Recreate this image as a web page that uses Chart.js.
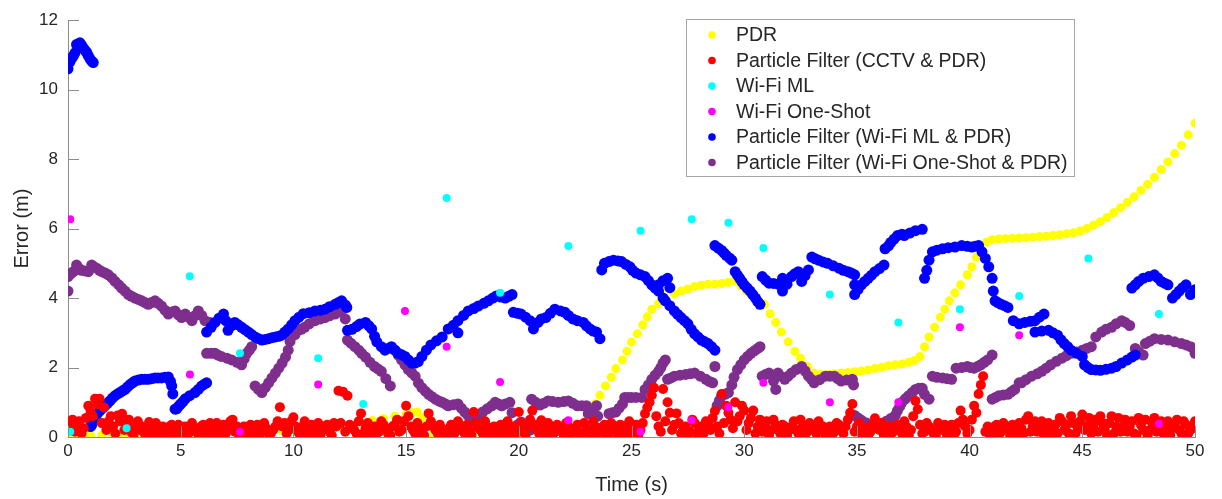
<!DOCTYPE html>
<html>
<head>
<meta charset="utf-8">
<script src="https://cdn.jsdelivr.net/npm/chart.js@4.4.0/dist/chart.umd.min.js"></script>
<style>
  html, body { margin: 0; padding: 0; background: #fff; }
  #wrap { width: 1222px; height: 499px; }
</style>
</head>
<body>
<div id="wrap"><canvas id="c" width="1222" height="499"></canvas></div>
<script>
// 軸刻度
const timeTicks = [0, 5, 10, 15, 20, 25, 30, 35, 40, 45, 50];
const errorTicks = [0, 2, 4, 6, 8, 10, 12];

// 各系列 [time (s), error (m)]
const pdrPoints = [
  [0,0.05],[0.5,0.05],[1,0.05],[1.5,0.05],[2,0.05],[2.5,0.08],[3,0.08],[3.5,0.1],[4,0.1],[4.5,0.1],
  [5,0.12],[5.5,0.12],[6,0.12],[6.5,0.12],[7,0.12],[7.5,0.15],[8,0.15],[8.5,0.15],[9,0.15],[9.5,0.18],
  [10,0.2],[10.5,0.2],[11,0.22],[11.5,0.25],[12,0.3],[12.5,0.35],[13,0.43],[13.5,0.48],[14,0.53],[14.5,0.6],
  [15,0.66],[15.3,0.7],[15.5,0.72],[15.7,0.55],[15.9,0.35],[16.2,0.05],[16.6,0.1],[17,0.12],[17.5,0.15],[18,0.15],
  [18.5,0.15],[19,0.18],[19.5,0.2],[20,0.2],[20.5,0.22],[21,0.25],[21.5,0.28],[22,0.3],[22.5,0.35],[22.9,0.42],
  [23.15,0.7],[23.4,0.96],[23.6,1.2],[23.85,1.47],[24.1,1.72],[24.3,1.97],[24.6,2.22],[24.8,2.47],[25.0,2.73],[25.26,2.97],
  [25.5,3.23],[25.7,3.46],[25.9,3.68],[26.2,3.84],[26.5,3.98],[26.9,4.12],[27.2,4.2],[27.5,4.26],[27.8,4.33],[28.1,4.37],
  [28.4,4.4],[28.7,4.4],[29.0,4.42],[29.3,4.45],[29.6,4.5],[29.85,4.35],[30.1,4.2],[30.35,4.07],[30.6,3.95],[30.9,3.82],
  [31.15,3.55],[31.4,3.3],[31.65,3.02],[31.95,2.74],[32.25,2.46],[32.5,2.27],[32.8,2.03],[33.1,1.84],[33.4,1.8],[33.7,1.8],
  [34.0,1.82],[34.3,1.84],[34.6,1.86],[34.9,1.88],[35.2,1.9],[35.5,1.93],[35.8,1.97],[36.1,2.0],[36.4,2.05],[36.7,2.08],
  [37.0,2.1],[37.3,2.15],[37.55,2.2],[37.8,2.32],[38.0,2.6],[38.2,2.88],[38.45,3.16],[38.7,3.45],[38.9,3.68],[39.1,3.92],
  [39.35,4.15],[39.6,4.38],[39.9,4.67],[40.1,4.9],[40.3,5.18],[40.5,5.42],[40.75,5.61],[41.0,5.68],[41.3,5.7],[41.6,5.71],
  [41.9,5.72],[42.2,5.73],[42.5,5.74],[42.8,5.75],[43.1,5.77],[43.4,5.78],[43.7,5.8],[44.0,5.82],[44.3,5.85],[44.6,5.88],
  [44.9,5.93],[45.2,6.0],[45.5,6.1],[45.8,6.2],[46.1,6.32],[46.4,6.46],[46.7,6.6],[47.0,6.76],[47.3,6.92],[47.6,7.1],
  [47.9,7.28],[48.2,7.48],[48.5,7.7],[48.8,7.92],[49.1,8.16],[49.4,8.4],[49.7,8.7],[50.0,9.03]
];

const cctvPfEven = [
  [0.0,0.2],[0.2,0.5],[0.4,0.3],[0.6,0.1],[0.8,0.55],[1.0,0.75],[1.2,1.1],[1.4,1.1],[1.6,0.85],[1.8,0.45],
  [2.0,0.3],[2.2,0.62],[2.4,0.67],[2.6,0.35],[2.8,0.15],[3.0,0.3],[3.2,0.2],[3.4,0.1],[3.6,0.43],[3.8,0.25],
  [4.0,0.1],[4.2,0.3],[4.4,0.15],[4.6,0.35],[4.8,0.2],[5.0,0.1],[5.2,0.3],[5.4,0.15],[5.6,0.25],[5.8,0.05],
  [6.0,0.35],[6.2,0.2],[6.4,0.1],[6.6,0.4],[6.8,0.2],[7.0,0.1],[7.2,0.45],[7.4,0.15],[7.6,0.05],[7.8,0.3],
  [8.0,0.2],[8.2,0.1],[8.4,0.35],[8.6,0.15],[8.8,0.25],[9.0,0.1],[9.2,0.3],[9.4,0.86],[9.6,0.4],[9.8,0.2],
  [10.0,0.57],[10.2,0.15],[10.4,0.3],[10.6,0.1],[10.8,0.35],[11.0,0.2],[11.2,0.05],[11.4,0.3],[11.6,0.15],[11.8,0.4],
  [12.0,1.33],[12.2,1.3],[12.4,1.19],[12.6,0.3],[12.8,0.1],[13.0,0.68],[13.2,0.25],[13.4,0.05],[13.6,0.3],[13.8,0.15],
  [14.0,0.35],[14.2,0.1],[14.4,0.3],[14.6,0.5],[14.8,0.2],[15.0,0.9],[15.2,0.3],[15.4,0.1],[15.6,0.25],[15.8,0.05],
  [16.0,0.68],[16.2,0.3],[16.4,0.1],[16.6,0.2],[16.8,0.05],[17.0,0.35],[17.2,0.15],[17.4,0.3],[17.6,0.1],[17.8,0.2],
  [18.0,0.72],[18.2,0.25],[18.4,0.1],[18.6,0.3],[18.8,0.15],[19.0,0.05],[19.2,0.35],[19.4,0.2],[19.6,0.1],[19.8,0.3],
  [20.0,0.72],[20.2,0.15],[20.4,0.3],[20.6,0.76],[20.8,0.2],[21.0,0.48],[21.2,0.1],[21.4,0.3],[21.6,0.15],[21.8,0.25],
  [22.0,0.05],[22.2,0.3],[22.4,0.15],[22.6,0.35],[22.8,0.1],[23.0,0.25],[23.2,0.05],[23.4,0.3],[23.6,0.15],[23.8,0.35],
  [24.0,0.1],[24.2,0.25],[24.4,0.05],[24.6,0.3],[24.8,0.2],[25.0,0.1],[25.2,0.35],[25.4,0.2],[25.6,0.67],[25.8,1.0],
  [26.0,1.42],[26.2,0.3],[26.4,1.38],[26.6,1.0],[26.8,0.2],[27.0,0.68],[27.2,0.1],[27.4,0.3],[27.6,0.15],[27.8,0.4],
  [28.0,0.2],[28.2,0.1],[28.4,0.35],[28.6,0.55],[28.8,0.3],[29.0,1.24],[29.2,0.9],[29.4,0.5],[29.6,1.0],[29.8,0.6],
  [30.0,0.76],[30.2,0.4],[30.4,0.76],[30.6,0.3],[30.8,0.15],[31.0,0.45],[31.2,0.2],[31.4,0.35],[31.6,0.1],[31.8,0.3],
  [32.0,0.2],[32.2,0.45],[32.4,0.1],[32.6,0.3],[32.8,0.15],[33.0,0.35],[33.2,0.1],[33.4,0.25],[33.6,0.05],[33.8,0.3],
  [34.0,0.15],[34.2,0.35],[34.4,0.1],[34.6,0.5],[34.8,0.95],[35.0,0.3],[35.2,0.1],[35.4,0.25],[35.6,0.15],[35.8,0.54],
  [36.0,0.2],[36.2,0.05],[36.4,0.3],[36.6,0.15],[36.8,0.35],[37.0,0.1],[37.2,0.3],[37.4,0.2],[37.6,1.04],[37.8,0.35],
  [38.0,0.15],[38.2,0.3],[38.4,0.1],[38.6,0.4],[38.8,0.2],[39.0,0.05],[39.2,0.35],[39.4,0.15],[39.6,0.76],[39.8,0.3],
  [40.0,0.2],[40.2,0.9],[40.4,1.24],[40.6,1.75],[40.8,0.3],[41.0,0.1],[41.2,0.35],[41.4,0.15],[41.6,0.3],[41.8,0.05],
  [42.0,0.25],[42.2,0.4],[42.4,0.1],[42.6,0.6],[42.8,0.3],[43.0,0.15],[43.2,0.45],[43.4,0.2],[43.6,0.05],[43.8,0.35],
  [44.0,0.55],[44.2,0.2],[44.4,0.1],[44.6,0.4],[44.8,0.25],[45.0,0.65],[45.2,0.3],[45.4,0.1],[45.6,0.5],[45.8,0.6],
  [46.0,0.2],[46.2,0.4],[46.4,0.1],[46.6,0.55],[46.8,0.3],[47.0,0.15],[47.2,0.45],[47.4,0.05],[47.6,0.35],[47.8,0.5],
  [48.0,0.2],[48.2,0.55],[48.4,0.3],[48.6,0.1],[48.8,0.45],[49.0,0.25],[49.2,0.5],[49.4,0.1],[49.6,0.35],[49.8,0.2],
  [50.0,0.45]
];

const cctvPfOdd = [
  [0.1,0.35],[0.3,0.15],[0.5,0.45],[0.7,0.25],[0.9,0.9],[1.1,0.6],[1.3,0.95],[1.5,0.4],[1.7,0.2],[1.9,0.6],
  [2.1,0.1],[2.3,0.45],[2.5,0.2],[2.7,0.5],[2.9,0.05],[3.1,0.45],[3.3,0.3],[3.5,0.2],[3.7,0.1],[3.9,0.4],
  [4.1,0.2],[4.3,0.05],[4.5,0.3],[4.7,0.1],[4.9,0.35],[5.1,0.2],[5.3,0.05],[5.5,0.4],[5.7,0.15],[5.9,0.3],
  [6.1,0.1],[6.3,0.4],[6.5,0.25],[6.7,0.05],[6.9,0.35],[7.1,0.25],[7.3,0.5],[7.5,0.3],[7.7,0.2],[7.9,0.1],
  [8.1,0.35],[8.3,0.25],[8.5,0.05],[8.7,0.4],[8.9,0.1],[9.1,0.2],[9.3,0.45],[9.5,0.3],[9.7,0.1],[9.9,0.45],
  [10.1,0.3],[10.3,0.05],[10.5,0.45],[10.7,0.25],[10.9,0.1],[11.1,0.4],[11.3,0.2],[11.5,0.35],[11.7,0.05],[11.9,0.3],
  [12.1,0.4],[12.3,0.15],[12.5,0.35],[12.7,0.2],[12.9,0.45],[13.1,0.1],[13.3,0.4],[13.5,0.2],[13.7,0.1],[13.9,0.45],
  [14.1,0.25],[14.3,0.05],[14.5,0.35],[14.7,0.15],[14.9,0.45],[15.1,0.6],[15.3,0.2],[15.5,0.4],[15.7,0.1],[15.9,0.3],
  [16.1,0.45],[16.3,0.2],[16.5,0.35],[16.7,0.1],[16.9,0.25],[17.1,0.05],[17.3,0.45],[17.5,0.2],[17.7,0.35],[17.9,0.05],
  [18.1,0.4],[18.3,0.2],[18.5,0.45],[18.7,0.05],[18.9,0.3],[19.1,0.2],[19.3,0.1],[19.5,0.45],[19.7,0.25],[19.9,0.1],
  [20.1,0.4],[20.3,0.05],[20.5,0.5],[20.7,0.35],[20.9,0.1],[21.1,0.3],[21.3,0.4],[21.5,0.05],[21.7,0.35],[21.9,0.15],
  [22.1,0.4],[22.3,0.1],[22.5,0.25],[22.7,0.05],[22.9,0.4],[23.1,0.2],[23.3,0.45],[23.5,0.1],[23.7,0.25],[23.9,0.05],
  [24.1,0.4],[24.3,0.2],[24.5,0.35],[24.7,0.1],[24.9,0.45],[25.1,0.25],[25.3,0.05],[25.5,0.4],[25.7,0.85],[25.9,1.2],
  [26.1,0.6],[26.3,0.15],[26.5,0.45],[26.7,0.7],[26.9,0.35],[27.1,0.4],[27.3,0.2],[27.5,0.05],[27.7,0.5],[27.9,0.1],
  [28.1,0.3],[28.3,0.45],[28.5,0.2],[28.7,0.75],[28.9,0.1],[29.1,0.4],[29.3,0.7],[29.5,0.25],[29.7,0.45],[29.9,0.9],
  [30.1,0.2],[30.3,0.55],[30.5,0.1],[30.7,0.5],[30.9,0.3],[31.1,0.05],[31.3,0.5],[31.5,0.2],[31.7,0.35],[31.9,0.05],
  [32.1,0.3],[32.3,0.2],[32.5,0.5],[32.7,0.05],[32.9,0.4],[33.1,0.2],[33.3,0.45],[33.5,0.3],[33.7,0.15],[33.9,0.05],
  [34.1,0.4],[34.3,0.2],[34.5,0.3],[34.7,0.7],[34.9,0.15],[35.1,0.4],[35.3,0.2],[35.5,0.05],[35.7,0.35],[35.9,0.25],
  [36.1,0.4],[36.3,0.1],[36.5,0.05],[36.7,0.3],[36.9,0.2],[37.1,0.45],[37.3,0.05],[37.5,0.6],[37.7,0.8],[37.9,0.1],
  [38.1,0.4],[38.3,0.2],[38.5,0.05],[38.7,0.25],[38.9,0.35],[39.1,0.15],[39.3,0.05],[39.5,0.4],[39.7,0.5],[39.9,0.1],
  [40.1,0.5],[40.3,0.7],[40.5,1.5],[40.7,0.15],[40.9,0.05],[41.1,0.3],[41.3,0.05],[41.5,0.4],[41.7,0.2],[41.9,0.35],
  [42.1,0.05],[42.3,0.25],[42.5,0.5],[42.7,0.15],[42.9,0.45],[43.1,0.3],[43.3,0.05],[43.5,0.4],[43.7,0.25],[43.9,0.1],
  [44.1,0.45],[44.3,0.35],[44.5,0.6],[44.7,0.1],[44.9,0.45],[45.1,0.2],[45.3,0.55],[45.5,0.35],[45.7,0.15],[45.9,0.4],
  [46.1,0.05],[46.3,0.6],[46.5,0.3],[46.7,0.15],[46.9,0.5],[47.1,0.3],[47.3,0.1],[47.5,0.55],[47.7,0.2],[47.9,0.05],
  [48.1,0.4],[48.3,0.15],[48.5,0.45],[48.7,0.3],[48.9,0.05],[49.1,0.35],[49.3,0.2],[49.5,0.45],[49.7,0.1],[49.9,0.3]
];

const wifiMlPoints = [
  [0.1,0.15],[2.6,0.25],[5.4,4.63],[7.63,2.41],[11.1,2.27],[13.1,0.95],[16.8,6.88],[19.17,4.15],[22.2,5.5],
  [25.4,5.94],[27.67,6.27],[29.3,6.17],[30.85,5.44],[33.8,4.1],[36.84,3.3],[39.57,3.68],[42.2,4.06],[45.27,5.14],[48.4,3.54]
];

const wifiOneShotPoints = [
  [0.1,6.27],[5.41,1.8],[7.63,0.15],[11.1,1.51],[14.95,3.63],[16.8,2.6],[19.17,1.58],[22.2,0.48],[25.4,0.15],
  [27.67,0.48],[29.3,0.86],[30.85,1.56],[33.8,1.0],[36.84,1.0],[39.57,3.16],[42.2,2.93],[48.4,0.38]
];

const mlPfPoints = [
  [0.0,10.6],[0.08,10.79],[0.16,10.9],[0.24,10.97],[0.31,11.06],[0.38,11.3],[0.46,11.32],[0.53,11.35],[0.6,11.28],[0.68,11.2],
  [0.76,11.13],[0.83,11.07],[0.9,10.98],[0.98,10.88],[1.05,10.82],[1.12,10.78],
  [1.0,0.3],[1.05,0.34],[1.12,0.45],[1.2,0.57],[1.3,0.67],[1.42,0.76],[1.53,0.83],[1.64,0.9],[1.75,0.97],[1.86,1.04],
  [1.97,1.12],[2.09,1.19],[2.2,1.24],[2.3,1.28],[2.42,1.33],[2.53,1.37],[2.64,1.44],[2.75,1.51],[2.86,1.56],[2.97,1.61],
  [3.12,1.64],[3.27,1.66],[3.42,1.66],[3.56,1.66],[3.71,1.68],[3.86,1.7],[4.0,1.7],[4.15,1.7],[4.3,1.72],[4.45,1.73],
  [4.55,1.6],[4.6,1.47],[4.65,1.24],
  [4.75,0.8],[4.82,0.81],[4.9,0.88],[5.0,0.95],[5.1,1.02],[5.2,1.1],[5.4,1.19],[5.63,1.28],[5.78,1.37],[5.93,1.47],
  [6.05,1.52],[6.15,1.56],
  [6.15,3.02],[6.35,3.16],[6.52,3.3],[6.7,3.42],[6.9,3.54],[7.0,3.35],[7.1,3.07],[7.25,3.2],[7.4,3.3],[7.55,3.23],
  [7.7,3.16],[7.85,3.09],[8.0,3.02],[8.15,2.95],[8.3,2.88],[8.45,2.83],[8.6,2.79],[8.75,2.81],[8.9,2.83],[9.05,2.86],
  [9.2,2.88],[9.35,2.9],[9.48,2.93],[9.62,3.02],[9.77,3.11],[9.92,3.23],[10.07,3.35],[10.25,3.45],[10.44,3.55],[10.7,3.58],
  [10.96,3.63],[11.2,3.65],[11.4,3.68],[11.6,3.75],[11.85,3.82],[12.0,3.87],[12.14,3.92],[12.3,3.8],[12.37,3.73],
  [12.4,3.07],[12.6,3.1],[12.8,3.18],[12.95,3.25],[13.2,3.3],[13.35,3.2],[13.47,3.11],[13.6,2.9],[13.7,2.74],[13.9,2.6],
  [14.06,2.5],[14.2,2.55],[14.35,2.6],[14.5,2.5],[14.65,2.41],[14.8,2.37],[14.95,2.32],[15.1,2.22],[15.25,2.13],[15.4,2.13],
  [15.54,2.17],[15.7,2.32],[15.9,2.5],[16.1,2.65],[16.35,2.77],[16.6,2.88],[16.87,3.11],[17.1,3.22],[17.3,3.35],[17.3,3.0],
  [17.55,3.5],[17.76,3.63],[18.0,3.7],[18.2,3.77],[18.45,3.85],[18.65,3.92],[18.85,4.0],[19.0,4.06],[19.2,4.03],[19.4,4.0],
  [19.55,4.05],[19.7,4.1],
  [19.76,3.59],[19.95,3.56],[20.1,3.54],[20.3,3.45],[20.5,3.35],[20.65,3.11],[20.85,3.3],[21.0,3.4],[21.2,3.44],[21.4,3.56],
  [21.6,3.68],[21.85,3.63],[22.05,3.59],[22.2,3.5],[22.4,3.4],[22.6,3.35],[22.86,3.3],[23.0,3.2],[23.16,3.11],[23.3,3.05],
  [23.45,3.02],[23.6,2.83],
  [23.68,4.81],[23.8,5.0],[24.0,5.05],[24.2,5.09],[24.4,5.07],[24.56,5.05],[24.75,4.97],[24.93,4.9],[25.05,4.8],[25.2,4.72],
  [25.4,4.67],[25.6,4.62],[25.75,4.5],[25.9,4.38],[26.05,4.29],[26.2,4.2],[26.4,4.0],
  [26.2,4.38],[26.4,4.5],[26.6,4.57],[26.7,4.3],[26.5,3.92],[26.7,3.78],[26.9,3.63],[27.05,3.53],[27.2,3.44],[27.35,3.35],
  [27.5,3.26],[27.65,3.1],[27.8,2.97],[27.95,2.88],[28.1,2.79],[28.25,2.74],[28.4,2.69],[28.55,2.6],[28.7,2.5],
  [28.7,5.51],[28.85,5.44],[29.0,5.37],[29.1,5.3],[29.2,5.23],[29.35,5.15],[29.45,5.09],[29.6,4.76],[29.7,4.66],[29.8,4.57],
  [29.9,4.47],[30.0,4.38],[30.13,4.29],[30.26,4.2],[30.38,4.1],[30.5,4.0],[30.6,3.9],[30.7,3.82],
  [30.8,4.62],[30.95,4.52],[31.1,4.43],[31.3,4.42],[31.5,4.4],[31.7,4.57],[31.7,4.2],[31.9,4.4],[32.1,4.62],[32.25,4.7],
  [32.4,4.76],[32.55,4.48],[32.7,4.65],[32.85,4.81],[33.0,5.18],[33.15,5.13],[33.3,5.09],[33.5,5.04],[33.7,5.0],[33.95,4.93],
  [34.2,4.86],[34.4,4.8],[34.6,4.76],[34.75,4.72],[34.9,4.67],[34.9,4.38],[34.9,4.1],[35.05,4.25],[35.2,4.38],[35.35,4.48],
  [35.5,4.57],[35.65,4.66],[35.8,4.76],[36.0,4.85],[36.2,4.95],[36.25,5.42],[36.4,5.5],[36.5,5.6],[36.65,5.7],[36.8,5.8],
  [37.0,5.84],[37.1,5.8],[37.35,5.87],[37.6,5.94],[37.9,5.98],
  [38.0,4.57],[38.1,4.8],[38.2,5.09],[38.35,5.33],[38.55,5.38],[38.8,5.42],[39.05,5.45],[39.35,5.47],[39.65,5.51],[39.9,5.49],
  [40.1,5.47],[40.25,5.49],[40.4,5.51],[40.55,5.33],[40.7,5.14],[40.85,4.9],[41.0,4.57],[41.05,4.2],[41.13,3.92],[41.25,3.87],
  [41.4,3.82],[41.55,3.78],[41.7,3.73],[41.94,3.35],[42.2,3.26],[42.45,3.3],[42.7,3.33],[42.9,3.35],[43.1,3.45],[43.3,3.54],
  [42.9,3.02],[43.2,3.05],[43.5,3.07],[43.7,3.0],[43.9,2.93],[44.05,2.8],[44.2,2.69],[44.35,2.6],[44.5,2.5],[44.75,2.41],
  [45.0,2.32],[45.1,2.08],[45.25,2.0],[45.4,1.94],[45.6,1.93],[45.8,1.92],[46.05,1.95],[46.3,1.98],[46.5,2.03],[46.75,2.13],
  [47.0,2.22],[47.2,2.3],[47.35,2.36],
  [47.2,4.29],[47.35,4.38],[47.5,4.48],[47.7,4.57],[47.95,4.62],[48.2,4.67],[48.35,4.58],[48.5,4.48],[48.65,4.43],[48.8,4.38],
  [49.0,4.0],[49.15,4.1],[49.3,4.2],[49.45,4.3],[49.6,4.38],[49.8,4.1],[50.0,4.24]
];

const oneShotPfPoints = [
  [0.0,4.2],[0.0,4.62],[0.12,4.7],[0.24,4.76],[0.38,4.95],[0.5,4.85],[0.6,4.8],[0.75,4.78],[0.9,4.76],[1.05,4.95],
  [1.15,4.9],[1.27,4.86],[1.4,4.8],[1.5,4.76],[1.65,4.72],[1.79,4.67],[1.95,4.58],[2.09,4.48],[2.25,4.38],[2.38,4.29],
  [2.53,4.2],[2.68,4.1],[2.82,4.05],[2.97,4.0],[3.12,3.96],[3.27,3.92],[3.42,3.87],[3.56,3.82],[3.7,3.87],[3.86,3.92],
  [4.0,3.85],[4.15,3.77],[4.3,3.65],[4.45,3.54],[4.6,3.6],[4.75,3.63],[4.9,3.52],[5.04,3.44],[5.2,3.54],[5.35,3.45],
  [5.5,3.35],[5.65,3.5],[5.78,3.63],[5.93,3.5],[6.08,3.35],[6.3,3.3],
  [6.15,2.41],[6.35,2.41],[6.52,2.41],[6.65,2.36],[6.8,2.32],[7.05,2.27],[7.26,2.22],[7.5,2.15],[7.7,2.08],[7.82,2.25],
  [7.93,2.41],[8.05,2.5],[8.15,2.6],
  [8.3,1.47],[8.45,1.37],[8.6,1.28],[8.75,1.42],[8.9,1.56],[9.05,1.7],[9.2,1.84],[9.35,1.98],[9.5,2.13],[9.65,2.3],
  [9.77,2.5],[9.85,2.75],[9.9,2.88],[10.07,2.95],[10.2,3.07],[10.35,3.1],[10.5,3.16],[10.7,3.26],[10.96,3.35],[11.2,3.4],
  [11.4,3.44],[11.6,3.49],[11.85,3.54],[12.0,3.6],[12.2,3.68],[12.3,3.4],
  [12.4,2.79],[12.55,2.7],[12.73,2.6],[12.9,2.5],[13.03,2.41],[13.2,2.3],[13.4,2.15],[13.6,2.03],[13.75,1.96],[13.9,1.89],
  [14.1,1.68],[14.3,1.47],
  [14.5,2.5],[14.65,2.36],[14.8,2.22],[14.95,2.08],[15.1,1.94],[15.25,1.85],[15.4,1.75],[15.55,1.55],[15.7,1.42],[15.85,1.32],
  [16.0,1.23],[16.15,1.16],[16.3,1.09],[16.45,1.04],[16.6,1.0],[16.75,0.95],[16.87,0.9],[17.1,0.93],[17.3,0.95],[17.45,0.83],
  [17.6,0.72],[17.75,0.62],[17.9,0.53],[18.05,0.57],[18.2,0.62],[18.4,0.72],[18.6,0.81],[18.8,0.9],[18.95,1.0],[19.1,0.95],
  [19.24,0.9],[19.4,0.95],[19.6,1.0],[19.7,0.7],
  [19.83,0.25],[19.95,0.35],[20.1,0.43],[20.3,0.3],[20.5,0.2],
  [20.57,1.09],[20.75,1.0],[20.94,0.92],[21.1,0.97],[21.3,1.04],[21.5,1.02],[21.75,1.0],[22.0,1.02],[22.2,1.04],[22.4,0.97],
  [22.6,0.9],[22.8,0.9],[23.0,0.9],[23.08,0.67],[23.25,0.78],[23.45,0.9],[23.5,0.6],
  [23.5,0.25],[23.65,0.22],[23.8,0.2],
  [24.0,0.67],[24.15,0.7],[24.3,0.72],[24.45,0.83],[24.6,0.95],[24.7,1.14],[24.85,1.14],[25.0,1.14],[25.2,1.14],[25.45,1.14],
  [25.6,1.37],[25.75,1.5],[25.9,1.66],[26.05,1.78],[26.2,1.89],[26.3,2.0],[26.4,2.13],[26.5,2.22],
  [26.6,1.66],[26.75,1.7],[26.9,1.75],[27.15,1.78],[27.4,1.8],[27.6,1.82],[27.8,1.84],[28.05,1.75],[28.3,1.66],[28.45,1.6],
  [28.6,1.56],[28.7,2.03],
  [28.8,0.9],[28.9,1.05],[29.0,1.19],[29.15,1.23],[29.3,1.28],[29.45,1.5],[29.55,1.72],[29.7,1.94],[29.85,2.08],[30.0,2.22],
  [30.15,2.32],[30.3,2.41],[30.45,2.48],[30.6,2.55],[30.7,2.6],
  [30.8,1.75],[30.95,1.8],[31.1,1.84],[31.3,1.61],[31.4,1.37],[31.5,1.84],[31.6,1.75],[31.8,1.66],[31.95,1.75],[32.1,1.84],
  [32.3,1.94],[32.55,2.03],[32.7,1.9],[32.85,1.75],[33.0,1.65],[33.1,1.56],[33.35,1.65],[33.6,1.75],[33.8,1.75],[34.0,1.75],
  [34.15,1.68],[34.3,1.61],[34.55,1.64],[34.8,1.66],[34.85,1.5],
  [34.9,0.62],[35.05,0.55],[35.2,0.48],[35.4,0.41],[35.66,0.34],[35.9,0.36],[36.1,0.38],[36.3,0.45],[36.5,0.53],[36.7,0.62],
  [36.8,0.76],[36.9,0.88],[37.0,1.0],[37.15,1.1],[37.3,1.19],[37.45,1.28],[37.6,1.37],[37.75,1.4],[37.9,1.4],[38.0,1.23],
  [38.2,1.09],
  [38.35,1.75],[38.55,1.72],[38.8,1.7],[39.0,1.68],[39.2,1.66],[39.4,1.98],[39.65,2.0],[39.9,2.03],[40.05,2.0],[40.2,1.98],
  [40.35,2.03],[40.5,2.08],[40.65,2.15],[40.8,2.22],[41.0,2.36],
  [41.0,1.09],[41.15,1.14],[41.3,1.19],[41.5,1.21],[41.7,1.23],[41.85,1.3],[42.0,1.37],[42.2,1.56],[42.3,1.56],[42.5,1.65],
  [42.75,1.75],[43.0,1.82],[43.2,1.89],[43.4,1.98],[43.6,2.08],[43.85,2.18],[44.1,2.27],[44.3,2.34],[44.5,2.41],[44.75,2.45],
  [45.0,2.5],[45.2,2.55],[45.4,2.6],
  [45.6,2.88],[45.86,3.02],[46.05,3.1],[46.3,3.16],[46.5,3.26],[46.75,3.35],[46.9,3.3],[47.1,3.21],
  [47.35,2.55],[47.5,2.45],[47.7,2.36],[47.8,2.69],[48.0,2.76],[48.2,2.83],[48.5,2.81],[48.8,2.79],[49.1,2.74],[49.4,2.69],
  [49.6,2.65],[49.8,2.6],[50.0,2.41]
];

const seriesLabels = [
  'PDR',
  'Particle Filter (CCTV & PDR)',
  'Wi-Fi ML',
  'Wi-Fi One-Shot',
  'Particle Filter (Wi-Fi ML & PDR)',
  'Particle Filter (Wi-Fi One-Shot & PDR)'
];
const seriesColors = ['#FFFF00', '#FF0000', '#00FFFF', '#FF00FF', '#0000FF', '#7E2F8E'];

const toXY = pts => pts.map(p => ({ x: p[0], y: p[1] }));
const TEXT = '#262626';
const AXIS = '#8c8c8c';
const FONT = "'Liberation Sans', Arial, sans-serif";

// 圖例 + 向內刻度（MATLAB 風格）
const matlabDecor = {
  id: 'matlabDecor',
  afterDraw(chart) {
    const { ctx, chartArea: a, scales } = chart;
    ctx.save();
    ctx.strokeStyle = AXIS;
    ctx.lineWidth = 1;
    const len = 11;
    ctx.beginPath();
    timeTicks.forEach(t => {
      const x = Math.round(scales.x.getPixelForValue(t)) + 0.5;
      ctx.moveTo(x, a.bottom);
      ctx.lineTo(x, a.bottom - len);
    });
    errorTicks.forEach(v => {
      const y = Math.round(scales.y.getPixelForValue(v)) + 0.5;
      ctx.moveTo(a.left, y);
      ctx.lineTo(a.left + len, y);
    });
    ctx.stroke();

    // legend box
    const bx = 686, by = 19, bw = 388, bh = 157;
    ctx.fillStyle = '#fff';
    ctx.fillRect(bx, by, bw, bh);
    ctx.strokeStyle = '#a6a6a6';
    ctx.strokeRect(bx + 0.5, by + 0.5, bw, bh);
    ctx.font = '19.5px ' + FONT;
    ctx.textBaseline = 'middle';
    ctx.textAlign = 'left';
    chart.data.datasets.forEach((ds, i) => {
      const cy = 35 + i * 25.5;
      ctx.fillStyle = ds.backgroundColor;
      ctx.beginPath();
      ctx.arc(712, cy, 3.8, 0, Math.PI * 2);
      ctx.fill();
      ctx.fillStyle = TEXT;
      ctx.fillText(ds.label, 736, cy + 1);
    });
    ctx.restore();
  }
};

const allSeries = [pdrPoints, cctvPfEven.concat(cctvPfOdd), wifiMlPoints, wifiOneShotPoints, mlPfPoints, oneShotPfPoints];
const radii = [4.5, 5, 4, 4, 5.5, 5.5];
const drawOrder = [5, 2, 0, 1, 3, 4];

new Chart(document.getElementById('c'), {
  type: 'scatter',
  data: {
    datasets: allSeries.map((pts, i) => ({
      label: seriesLabels[i],
      data: toXY(pts),
      backgroundColor: seriesColors[i],
      borderColor: seriesColors[i],
      borderWidth: 0,
      pointRadius: radii[i],
      pointHoverRadius: radii[i],
      order: drawOrder[i]
    }))
  },
  options: {
    responsive: false,
    animation: false,
    events: [],
    layout: { padding: { top: 12, right: 27, left: 0, bottom: 0 } },
    plugins: { legend: { display: false }, tooltip: { enabled: false } },
    scales: {
      x: {
        type: 'linear',
        min: 0, max: 50,
        afterBuildTicks: s => { s.ticks = timeTicks.map(v => ({ value: v })); },
        afterFit: s => { s.height = 62; },
        grid: { display: false, drawTicks: false },
        border: { display: true, color: AXIS },
        ticks: { color: TEXT, font: { family: FONT, size: 17 }, padding: 4, maxRotation: 0 },
        title: { display: true, text: 'Time (s)', color: TEXT, font: { family: FONT, size: 20 }, padding: { bottom: 2 } }
      },
      y: {
        type: 'linear',
        min: 0, max: 12,
        afterBuildTicks: s => { s.ticks = errorTicks.map(v => ({ value: v })); },
        afterFit: s => { s.width = 68; },
        grid: { display: false, drawTicks: false },
        border: { display: true, color: AXIS },
        ticks: { color: TEXT, font: { family: FONT, size: 17 }, padding: 10 },
        title: { display: true, text: 'Error (m)', color: TEXT, font: { family: FONT, size: 20 }, padding: { top: 10 } }
      }
    }
  },
  plugins: [matlabDecor]
});
</script>
</body>
</html>
